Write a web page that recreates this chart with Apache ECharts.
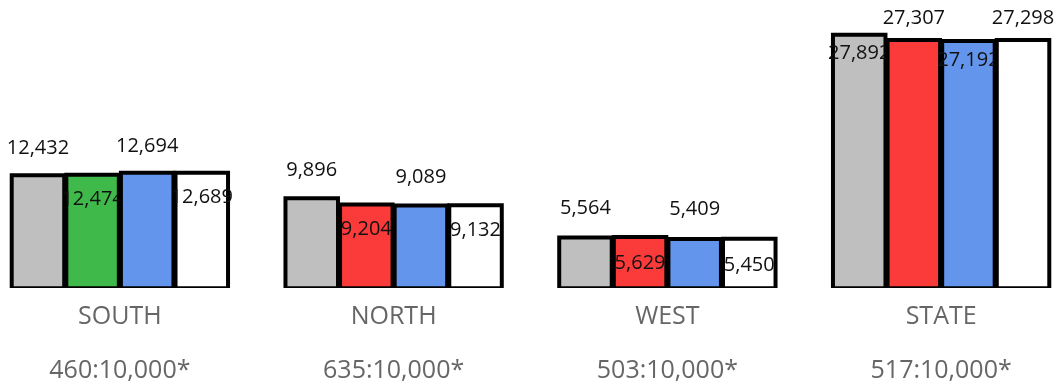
<!DOCTYPE html>
<html>
<head>
<meta charset="utf-8">
<title>Regional counts</title>
<script src="https://cdn.jsdelivr.net/npm/echarts@6/dist/echarts.min.js"></script>
<style>
  html, body { margin: 0; padding: 0; background: #ffffff; }
  #chart { width: 1056px; height: 385px; }
</style>
</head>
<body>
<div id="chart"></div>
<script>
// Regions and their rate captions
const REGIONS = ['SOUTH', 'NORTH', 'WEST', 'STATE'];
const RATES = ['460:10,000*', '635:10,000*', '503:10,000*', '517:10,000*'];

// Four bars per region, left to right
const BAR_GRAY  = [12432, 9896, 5564, 27892];
const BAR_COLOR = [12474, 9204, 5629, 27307];
const BAR_BLUE  = [12694, 9089, 5409, 27192];
const BAR_WHITE = [12689, 9132, 5450, 27298];

// Styling
const SECOND_FILL = ['#3fba4a', '#fb3a3a', '#fb3a3a', '#fb3a3a'];
const FILLS = ['#bfbfbf', null, '#6495ed', '#ffffff'];
// true = value label sits above the bar, false = just inside its top
const LABEL_ABOVE = [
  [true, false, true, false],
  [true, false, true, false],
  [true, false, true, false],
  [false, true, false, true]
];

const BARS = [BAR_GRAY, BAR_COLOR, BAR_BLUE, BAR_WHITE];
const items = [];
REGIONS.forEach((name, r) => {
  BARS.forEach((arr, k) => items.push([r, arr[r], k]));
});

const BAR_FRAC = 0.1918;   // bar width as a share of the region band
const GAP_FRAC = 0.04;     // gap between bars as a share of bar width
const fmt = v => v.toLocaleString('en-US');

function renderItem(params, api) {
  const r = api.value(0), v = api.value(1), k = api.value(2);
  const base = api.coord([r, 0]);
  const top = api.coord([r, v]);
  const band = api.size([1, 0])[0];
  const barW = band * BAR_FRAC;
  const gap = barW * GAP_FRAC;
  const cx = base[0] + (k - 1.5) * (barW + gap);
  const x = cx - barW / 2;
  const y = top[1];
  const h = base[1] - top[1];
  const fill = k === 1 ? SECOND_FILL[r] : FILLS[k];
  const above = LABEL_ABOVE[r][k];
  const ly = above ? y - (31.5 - 0.04 * h) : y + (28 - 0.035 * h);
  return {
    type: 'group',
    children: [
      {
        type: 'rect',
        shape: { x: x, y: y, width: barW, height: h },
        style: { fill: fill, stroke: '#000000', lineWidth: 4 },
        clipPath: {
          type: 'rect',
          shape: { x: x - 4, y: y - 4, width: barW + 8, height: h + 3.8 }
        }
      },
      {
        type: 'text',
        style: {
          text: fmt(v),
          x: cx,
          y: ly,
          align: 'center',
          verticalAlign: 'middle',
          font: '20px "Open Sans"',
          fill: '#111111'
        }
      }
    ]
  };
}

const chart = echarts.init(document.getElementById('chart'), null, { renderer: 'canvas' });
chart.setOption({
  animation: false,
  backgroundColor: '#ffffff',
  grid: {
    left: -17, width: 1095, top: 0, bottom: 96.8,
    containLabel: false,
    outerBoundsMode: 'none'
  },
  xAxis: {
    type: 'category',
    data: REGIONS,
    axisLine: { show: false },
    axisTick: { show: false },
    axisLabel: {
      interval: 0,
      margin: 13.3,
      formatter: (value, idx) => '{n|' + value + '}\n{r|' + RATES[idx] + '}',
      rich: {
        n: { fontFamily: 'Open Sans', fontSize: 25, color: '#666666', lineHeight: 30 },
        r: { fontFamily: 'Open Sans', fontSize: 25, color: '#666666', lineHeight: 79 }
      }
    }
  },
  yAxis: {
    type: 'value',
    min: 0,
    max: 31705,
    show: false,
    splitLine: { show: false }
  },
  series: [{
    type: 'custom',
    renderItem: renderItem,
    encode: { x: 0, y: 1 },
    clip: false,
    data: items
  }]
});
</script>
</body>
</html>
